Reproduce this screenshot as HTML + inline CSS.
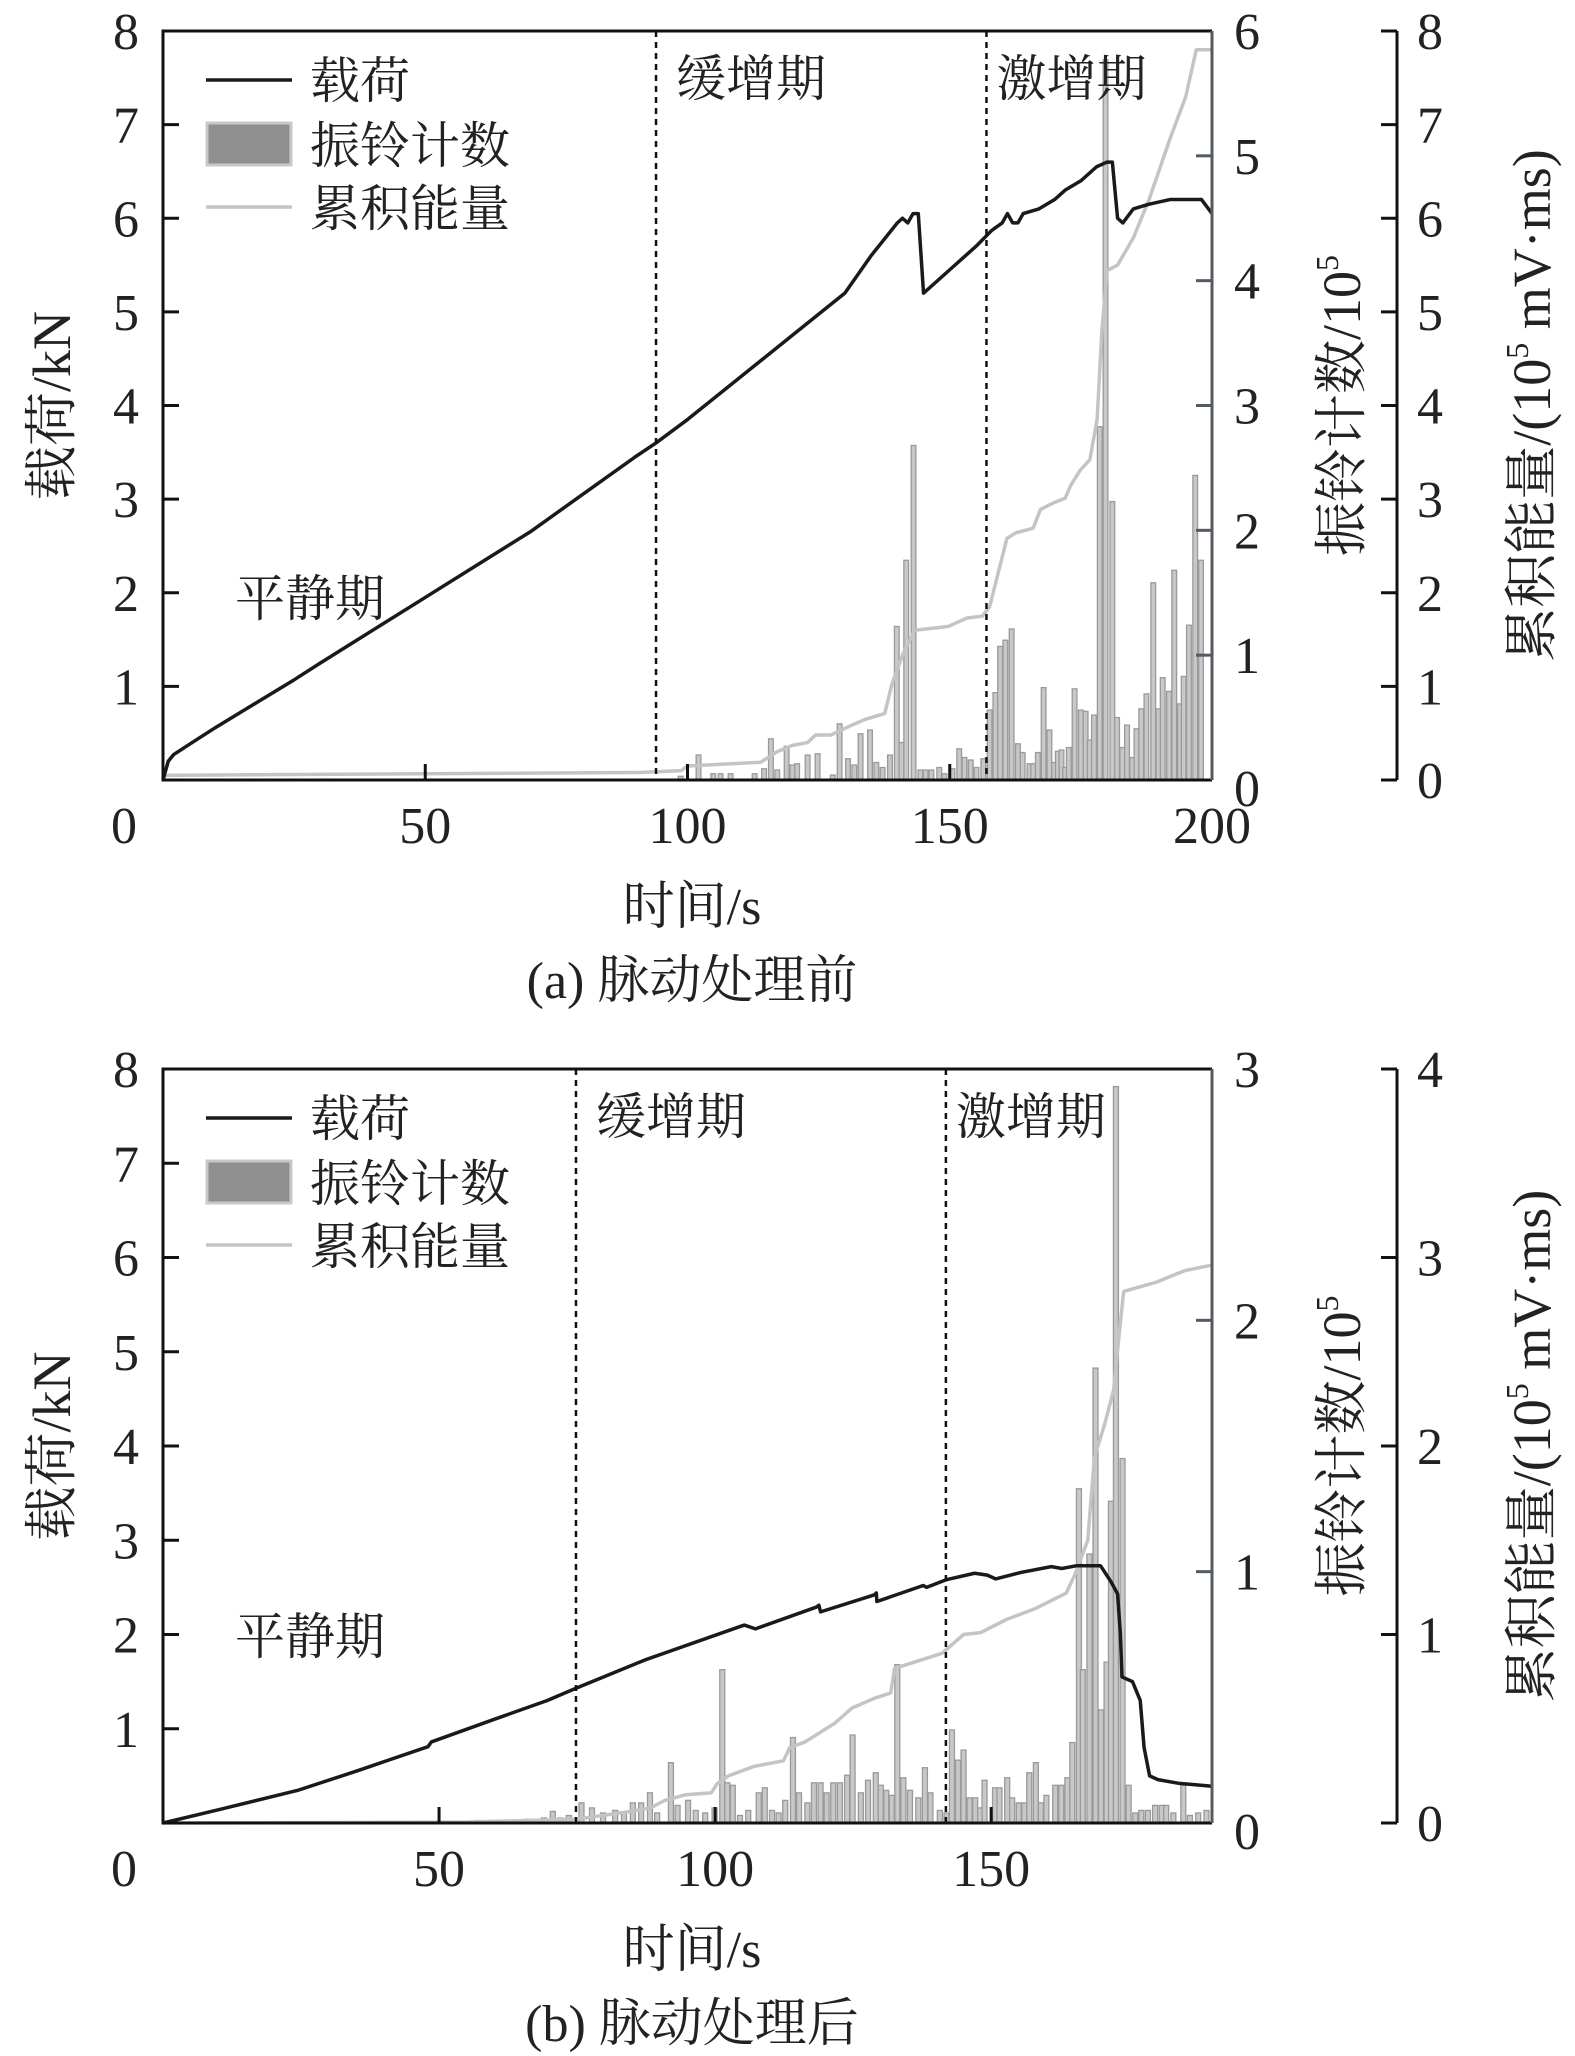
<!DOCTYPE html>
<html><head><meta charset="utf-8">
<style>
html,body{margin:0;padding:0;background:#fff;}
svg{display:block;}
text{font-family:"Liberation Serif","Noto Serif CJK SC",serif;fill:#222;}
</style></head>
<body>
<svg id="chart" width="1575" height="2056" viewBox="0 0 1575 2056" xmlns="http://www.w3.org/2000/svg"></svg>
<script>
// ---------- Panel (a) data ----------
const loadA_t = [0,1,2,5,10,15,20,25,30,40,50,60,70,80,90,94,100,110,120,130,135,140,141,142,143,144,145,150,155,158,160,161,162,163,164,167,170,172,175,178,180,181,181.5,182,183,185,188,192,196,198,200];
const loadA_v = [0,0.2,0.27,0.38,0.56,0.73,0.9,1.07,1.25,1.6,1.95,2.3,2.65,3.05,3.45,3.6,3.85,4.3,4.75,5.2,5.6,5.95,6.0,5.95,6.05,6.05,5.2,5.45,5.7,5.87,5.95,6.05,5.95,5.95,6.05,6.1,6.2,6.3,6.4,6.55,6.6,6.6,6.3,6.0,5.95,6.1,6.15,6.2,6.2,6.2,6.05];
const energyA_t = [0,90.9,98.8,100,114,117,120,122.9,124.4,127.3,131.1,134,137.6,139,141.1,143.3,149.7,153.3,156.2,157.6,160.9,162.6,165.9,167.3,169.8,172,173.1,174.9,176.7,178.1,179,180,182,185,188,192,195,197,200];
const energyA_v = [0.05,0.08,0.1,0.15,0.19,0.3,0.37,0.4,0.48,0.48,0.58,0.65,0.71,1.03,1.35,1.6,1.64,1.73,1.75,1.85,2.58,2.64,2.69,2.89,2.96,3.01,3.15,3.31,3.42,3.85,4.8,5.44,5.5,5.79,6.2,6.85,7.3,7.8,7.8];
const ringA_t = [98.7,102.1,104.9,106.3,108.2,112.8,114.6,115.9,117.1,118.9,120,120.9,122.9,124.8,127.7,129,130.6,131.8,133,134.8,136,137.2,138.6,139.9,140.8,141.7,143.1,144.4,145.4,146.5,148,149,150.5,151.8,152.8,154,155.1,156.4,157.6,158.7,159.6,160.6,161.8,163,163.9,165.2,165.9,166.8,167.9,169,169.9,170.6,171.3,172,172.7,173.8,175,175.9,176.7,177.5,178.6,179.7,181,181.9,182.9,183.8,184.8,185.6,186.5,187.5,188.8,189.8,190.6,191.8,192.8,193.9,194.6,195.6,196.8,197.9];
const ringA_v = [0.03,0.2,0.05,0.05,0.05,0.05,0.09,0.33,0.08,0.27,0.12,0.13,0.2,0.21,0.04,0.45,0.17,0.12,0.37,0.4,0.14,0.1,0.2,1.23,0.3,1.76,2.68,0.08,0.08,0.08,0.1,0.05,0.09,0.25,0.18,0.16,0.1,0.17,0.56,0.7,1.07,1.12,1.21,0.29,0.22,0.13,0.13,0.22,0.74,0.4,0.14,0.23,0.24,0.1,0.26,0.73,0.56,0.55,0.32,0.52,2.83,5.77,2.23,0.5,0.26,0.44,0.18,0.41,0.57,0.69,1.58,0.57,0.82,0.71,1.68,0.61,0.83,1.24,2.44,1.76];
const phaseA = [94,157];

// ---------- Panel (b) data ----------
const loadB_t = [0,10,24.6,35,48,48.6,60,69.6,74.8,87.3,104.3,105.3,107.3,118.3,118.8,119.1,128.8,129.2,129.3,137.7,138.3,141.8,147,149.3,150.8,155.5,160.9,162.8,165.5,169.8,171.7,172.9,173.4,173.7,175.6,177,177.7,178.7,180.2,184.1,188,190];
const loadB_v = [0,0.14,0.35,0.55,0.81,0.86,1.1,1.3,1.43,1.73,2.08,2.1,2.06,2.29,2.31,2.24,2.42,2.44,2.35,2.52,2.5,2.58,2.65,2.63,2.59,2.66,2.72,2.7,2.73,2.73,2.56,2.43,2.01,1.55,1.5,1.3,0.8,0.5,0.46,0.42,0.4,0.39];
const energyB_t = [0,55,74.8,84.3,88.3,90.9,94.7,99.3,100.4,102.4,107,112.4,113.5,116.3,121.7,124.8,128.7,131.8,132.5,135.7,141.1,145,148.1,152.8,158.2,163.6,165.2,167.5,168.7,170.6,172.2,173.2,174,180,185,190];
const energyB_v = [0,0.005,0.02,0.06,0.08,0.12,0.15,0.16,0.21,0.25,0.3,0.33,0.4,0.43,0.53,0.61,0.66,0.69,0.82,0.85,0.9,1.0,1.01,1.08,1.14,1.22,1.32,1.5,1.94,2.12,2.3,2.6,2.82,2.87,2.93,2.96];
const ringB_t = [57,60,63,66,69,70.6,72,73.5,75.8,77.7,79.7,81.9,83.5,85.1,86.6,88.2,89.5,92,93.2,95.1,96.5,98.2,99.9,101.3,102.2,103.2,104.5,106,107.9,109,110.3,111.5,112.7,114.1,115.2,116.7,117.9,119.1,120.2,121.4,122.6,123.9,124.9,126.4,127.7,129.1,130,131,132,133,134.1,135.3,136.8,138,139,140.7,141.9,142.9,144,145,146.1,147.1,148,148.8,150.7,151.5,152.9,153.8,155,156,156.9,158.1,159,160,161.6,162.7,163.8,164.7,165.9,166.6,167.8,168.9,169.9,170.9,171.7,172.6,173.8,174.9,176.1,177.2,178.4,179.7,180.9,181.7,183,184.8,186,187.5,189];
const ringB_v = [0.01,0.01,0.01,0.015,0.02,0.046,0.02,0.03,0.08,0.06,0.04,0.05,0.04,0.08,0.08,0.12,0.04,0.24,0.07,0.09,0.05,0.04,0.06,0.61,0.16,0.15,0.03,0.05,0.12,0.14,0.05,0.04,0.09,0.34,0.12,0.08,0.16,0.16,0.12,0.16,0.16,0.19,0.35,0.12,0.17,0.2,0.15,0.13,0.11,0.63,0.18,0.13,0.1,0.22,0.12,0.05,0.04,0.37,0.25,0.29,0.1,0.1,0.06,0.17,0.14,0.14,0.18,0.1,0.08,0.08,0.2,0.24,0.08,0.11,0.15,0.15,0.18,0.32,1.33,0.61,1.07,1.81,0.45,0.64,1.28,2.93,1.45,0.15,0.04,0.05,0.05,0.07,0.07,0.07,0.04,0.15,0.03,0.04,0.05];
const phaseB = [74.8,141.8];

// ---------- tick labels ----------
const xTicksA = [0,50,100,150,200];
const xTicksB = [0,50,100,150];
const yTicksLoad = [1,2,3,4,5,6,7,8];
const ringTicksA = [0,1,2,3,4,5,6];
const ringTicksB = [0,1,2,3];
const energyTicksA = [0,1,2,3,4,5,6,7,8];
const energyTicksB = [0,1,2,3,4];

const NS = "http://www.w3.org/2000/svg";
const svg = document.getElementById('chart');
function mk(tag, attrs, parent){
  const e = document.createElementNS(NS, tag);
  for (const k in attrs) e.setAttribute(k, attrs[k]);
  (parent||svg).appendChild(e);
  return e;
}

function drawPanel(p){
  const g = mk('g', {});
  
  
  const L=163, R=1212, T=p.top, B=p.bottom;
  const sx = t => L + t/p.xmax*(R-L);
  const syLoad = v => B - v/8*(B-T);
  const syRing = v => B - v/p.ringMax*(B-T);
  const syEn = v => B - v/p.enMax*(B-T);

  const bars = mk('g', {}, g);
  
  
  const bw = (R-L)/p.xmax*0.9;
  p.ringT.forEach((t,i)=>{
    const y = syRing(p.ringV[i]);
    const r = mk('rect', {x:sx(t)-bw/2, y:y, width:bw, height:Math.max(0.5,B-y), fill:'#c8c8c8', stroke:'#9a9a9a', 'stroke-width':1.3}, bars);
    
    
  });
  const en = mk('polyline', {points:p.enT.map((t,i)=>sx(t)+','+syEn(p.enV[i])).join(' '), fill:'none', stroke:'#c4c4c4', 'stroke-width':3.5, 'stroke-linejoin':'round'}, g);
  
  
  const ld = mk('polyline', {points:p.loadT.map((t,i)=>sx(t)+','+syLoad(p.loadV[i])).join(' '), fill:'none', stroke:'#1a1a1a', 'stroke-width':3.5, 'stroke-linejoin':'round'}, g);
  
  
  p.phase.forEach(t=>{
    const d = mk('line', {x1:sx(t), x2:sx(t), y1:T, y2:B, stroke:'#111', 'stroke-width':2.5, 'stroke-dasharray':'6,5'}, g);
    
    
  });
  const fr = mk('path', {d:`M${R},${T} H${L} V${B} H${R}`, fill:'none', stroke:'#111', 'stroke-width':3}, g);
  
  
  const ra = mk('line', {x1:R, x2:R, y1:T, y2:B, stroke:'#555a60', 'stroke-width':3}, g);
  
  
  const ea = mk('line', {x1:1397, x2:1397, y1:T, y2:B, stroke:'#111', 'stroke-width':3}, g);
  
  

  p.xTicks.forEach(v=>{
    if (v>0 && v<p.xmax){ mk('line',{x1:sx(v),x2:sx(v),y1:B,y2:B-16,stroke:'#111','stroke-width':3},g); }
    const tx = mk('text',{x: v===0?124:sx(v), y:p.bottom+63, 'font-size':52, 'text-anchor':'middle'}, g);
    tx.textContent = v;
    
    
  });
  yTicksLoad.forEach(v=>{
    const y = syLoad(v);
    if (v<8) mk('line',{x1:L,x2:L+16,y1:y,y2:y,stroke:'#111','stroke-width':3},g);
    const tx = mk('text',{x:126, y:y+18, 'font-size':52, 'text-anchor':'middle'}, g);
    tx.textContent = v;
    
    
  });
  p.ringTicks.forEach(v=>{
    const y = syRing(v);
    if (v>0 && v<p.ringMax) mk('line',{x1:R-16,x2:R,y1:y,y2:y,stroke:'#555a60','stroke-width':3},g);
    const tx = mk('text',{x:1234, y:y+18+(v===0?8:0), 'font-size':52}, g);
    tx.textContent = v;
    
    
  });
  p.enTicks.forEach(v=>{
    const y = syEn(v);
    mk('line',{x1:1381,x2:1397,y1:y,y2:y,stroke:'#111','stroke-width':3},g);
    const tx = mk('text',{x:1417, y:y+18, 'font-size':52}, g);
    tx.textContent = v;
    
    
  });

  const mid = (T+B)/2;
  const yl = mk('text',{transform:`translate(70,${mid}) rotate(-90)`, 'font-size':54, 'text-anchor':'middle'}, g);
  yl.textContent = '载荷/kN';
  
  
  const r1 = mk('text',{transform:`translate(1360,${mid}) rotate(-90)`, 'font-size':54, 'text-anchor':'middle'}, g);
  r1.innerHTML = '振铃计数/10<tspan font-size="32" dy="-22">5</tspan>';
  
  
  const r2 = mk('text',{transform:`translate(1550,${mid}) rotate(-90)`, 'font-size':54, 'text-anchor':'middle'}, g);
  r2.innerHTML = '累积能量/(10<tspan font-size="32" dy="-22">5</tspan><tspan dy="22"> mV·ms)</tspan>';
  
  
  const xl = mk('text',{x:692, y:B+144, 'font-size':52, 'text-anchor':'middle'}, g);
  xl.textContent = '时间/s';
  
  
  const cap = mk('text',{x:692, y:B+218, 'font-size':52, 'text-anchor':'middle'}, g);
  cap.textContent = p.caption;
  
  

  const ph = [['缓增期', sx(p.phase[0])+20, T+65], ['激增期', sx(p.phase[1])+10, T+65], ['平静期', 235, T+585]];
  ph.forEach(a=>{
    const tx = mk('text',{x:a[1], y:a[2], 'font-size':50}, g);
    tx.textContent = a[0];
    
    
  });

  const lg = mk('g', {}, g);
  
  
  mk('line',{x1:206,x2:292,y1:T+49,y2:T+49,stroke:'#1a1a1a','stroke-width':3.5},lg);
  mk('rect',{x:207,y:T+92,width:84,height:42,fill:'#8f8f8f',stroke:'#c8c8c8','stroke-width':3},lg);
  mk('line',{x1:206,x2:292,y1:T+176,y2:T+176,stroke:'#c4c4c4','stroke-width':3.5},lg);
  [['载荷',T+66],['振铃计数',T+131],['累积能量',T+194]].forEach(a=>{
    const tx = mk('text',{x:310, y:a[1]+1, 'font-size':50}, lg);
    tx.textContent = a[0];
    
    
  });
}

drawPanel({id:'a', top:31, bottom:780, xmax:200, ringMax:6, enMax:8,
  loadT:loadA_t, loadV:loadA_v, enT:energyA_t, enV:energyA_v, ringT:ringA_t, ringV:ringA_v,
  phase:phaseA, xTicks:xTicksA, ringTicks:ringTicksA, enTicks:energyTicksA, caption:'(a) 脉动处理前'});
drawPanel({id:'b', top:1069, bottom:1823, xmax:190, ringMax:3, enMax:4,
  loadT:loadB_t, loadV:loadB_v, enT:energyB_t, enV:energyB_v, ringT:ringB_t, ringV:ringB_v,
  phase:phaseB, xTicks:xTicksB, ringTicks:ringTicksB, enTicks:energyTicksB, caption:'(b) 脉动处理后'});
</script>
</body></html>
